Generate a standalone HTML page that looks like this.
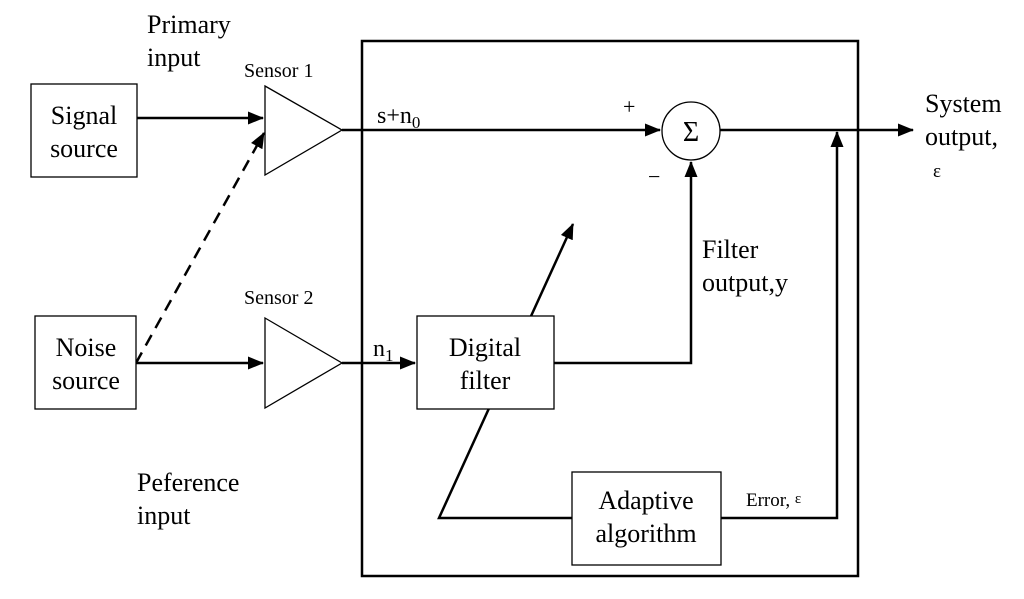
<!DOCTYPE html>
<html><head><style>body{margin:0;background:#fff}svg{display:block}text{font-family:"Liberation Serif",serif;fill:#000}</style></head><body>
<svg width="1024" height="599" viewBox="0 0 1024 599" xmlns="http://www.w3.org/2000/svg">
<defs><marker id="a" markerWidth="16" markerHeight="13" refX="15" refY="6.5" orient="auto" markerUnits="userSpaceOnUse"><path d="M0,0 L16,6.5 L0,13 z" fill="#000"/></marker></defs>
<g fill="none" stroke="#000">
<rect x="362" y="41" width="496" height="535" stroke-width="2.5"/>
<g stroke-width="2.5">
<line x1="137" y1="118" x2="263" y2="118" marker-end="url(#a)"/>
<line x1="136" y1="363" x2="263" y2="363" marker-end="url(#a)"/>
<line x1="136" y1="363" x2="264" y2="133" stroke-dasharray="12,8" marker-end="url(#a)"/>
<line x1="342" y1="130" x2="660" y2="130" marker-end="url(#a)"/>
<line x1="342" y1="363" x2="415" y2="363" marker-end="url(#a)"/>
<line x1="720" y1="130" x2="913" y2="130" marker-end="url(#a)"/>
<polyline points="554,363 691,363 691,162" marker-end="url(#a)"/>
<polyline points="721,518 837,518 837,132" marker-end="url(#a)"/>
<polyline points="572,518 439,518 573,224" marker-end="url(#a)"/>
</g>
<g fill="#fff" stroke-width="1.3">
<rect x="31" y="84" width="106" height="93"/>
<rect x="35" y="316" width="101" height="93"/>
<rect x="417" y="316" width="137" height="93"/>
<rect x="572" y="472" width="149" height="93"/>
<path d="M265,86 L342,130 L265,175 z"/>
<path d="M265,318 L342,363 L265,408 z"/>
<circle cx="691" cy="131" r="29"/>
</g></g>
<g font-size="26">
<text x="147" y="33">Primary</text><text x="147" y="66">input</text>
<text x="84" y="124" text-anchor="middle">Signal</text><text x="84" y="157" text-anchor="middle">source</text>
<text x="86" y="356" text-anchor="middle">Noise</text><text x="86" y="389" text-anchor="middle">source</text>
<text x="485" y="356" text-anchor="middle">Digital</text><text x="485" y="389" text-anchor="middle">filter</text>
<text x="646" y="509" text-anchor="middle">Adaptive</text><text x="646" y="542" text-anchor="middle">algorithm</text>
<text x="137" y="491">Peference</text><text x="137" y="524">input</text>
<text x="925" y="112">System</text><text x="925" y="145">output,</text>
<text x="702" y="258">Filter</text><text x="702" y="291">output,y</text>
<text x="377" y="123" font-size="24">s+n<tspan font-size="17" dy="5">0</tspan></text>
<text x="373" y="356" font-size="24">n<tspan font-size="17" dy="5">1</tspan></text>
<text x="691" y="141" text-anchor="middle" font-size="28">Σ</text>
</g>
<text x="244" y="77" font-size="20">Sensor 1</text>
<text x="244" y="304" font-size="20">Sensor 2</text>
<text x="623" y="114" font-size="22">+</text>
<text x="648" y="184" font-size="22">−</text>
<text x="933" y="177" font-size="19">ε</text>
<text x="746" y="506" font-size="19">Error, <tspan font-size="15" dy="-3">ε</tspan></text>
</svg>
</body></html>
